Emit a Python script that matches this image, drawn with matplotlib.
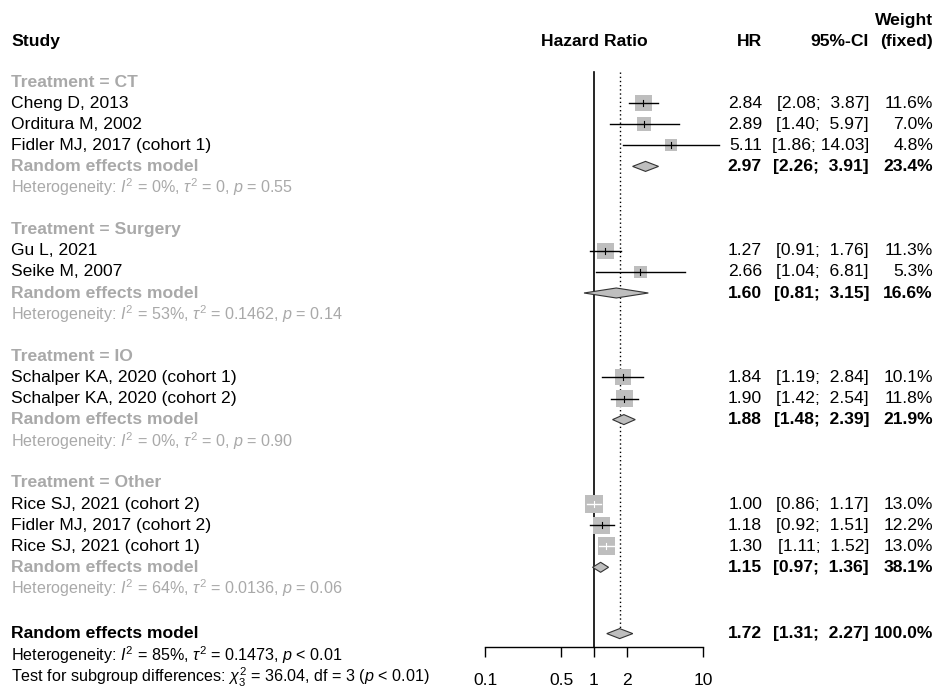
import matplotlib
matplotlib.use("Agg")
import matplotlib.pyplot as plt
from matplotlib.patches import Polygon
import numpy as np

plt.rcParams["font.family"] = ["Liberation Sans", "DejaVu Sans"]
plt.rcParams["mathtext.fontset"] = "custom"
plt.rcParams["mathtext.rm"] = "Liberation Sans"
plt.rcParams["mathtext.it"] = "Liberation Sans:italic"
plt.rcParams["mathtext.bf"] = "Liberation Sans:bold"

# ---- data ----
groups = ["CT", "Surgery", "IO", "Other"]
study_names = [
    ["Cheng D, 2013", "Orditura M, 2002", "Fidler MJ, 2017 (cohort 1)"],
    ["Gu L, 2021", "Seike M, 2007"],
    ["Schalper KA, 2020 (cohort 1)", "Schalper KA, 2020 (cohort 2)"],
    ["Rice SJ, 2021 (cohort 2)", "Fidler MJ, 2017 (cohort 2)", "Rice SJ, 2021 (cohort 1)"],
]
study_hr = [[2.84, 2.89, 5.11], [1.27, 2.66], [1.84, 1.90], [1.00, 1.18, 1.30]]
study_lo = [[2.08, 1.40, 1.86], [0.91, 1.04], [1.19, 1.42], [0.86, 0.92, 1.11]]
study_hi = [[3.87, 5.97, 14.03], [1.76, 6.81], [2.84, 2.54], [1.17, 1.51, 1.52]]
study_w = [[11.6, 7.0, 4.8], [11.3, 5.3], [10.1, 11.8], [13.0, 12.2, 13.0]]

sub_hr = [2.97, 1.60, 1.88, 1.15]
sub_lo = [2.26, 0.81, 1.48, 0.97]
sub_hi = [3.91, 3.15, 2.39, 1.36]
sub_w = [23.4, 16.6, 21.9, 38.1]
sub_het = [
    r"Heterogeneity: $I^2$ = 0%, $\tau^2$ = 0, $p$ = 0.55",
    r"Heterogeneity: $I^2$ = 53%, $\tau^2$ = 0.1462, $p$ = 0.14",
    r"Heterogeneity: $I^2$ = 0%, $\tau^2$ = 0, $p$ = 0.90",
    r"Heterogeneity: $I^2$ = 64%, $\tau^2$ = 0.0136, $p$ = 0.06",
]

overall_hr, overall_lo, overall_hi, overall_w = 1.72, 1.31, 2.27, 100.0
overall_het = r"Heterogeneity: $I^2$ = 85%, $\tau^2$ = 0.1473, $p$ < 0.01"
subgroup_test = r"Test for subgroup differences: $\chi^2_3$ = 36.04, df = 3 ($p$ < 0.01)"

xticks = [0.1, 0.5, 1, 2, 10]
xtick_labels = ["0.1", "0.5", "1", "2", "10"]

# ---- layout (pixels) ----
W, H = 944, 691
FS = 12.6
FS_HET = 11.6
GRAY_TXT = "#A9A9A9"
BOX = "#BEBEBE"
X_LAB, X_HR, X_CI, X_W = 11, 762, 869, 933
Y0, DY = 82, 21.1
AX_L, AX_R, AX_B = 485, 703, 647


def ci_str(lo, hi):
    a, b = f"{lo:.2f}", f"{hi:.2f}"
    return "[" + a + ";" + " " * (6 - len(b)) + b + "]"


fig = plt.figure(figsize=(W / 100, H / 100), dpi=100)
tx = fig.add_axes([0, 0, 1, 1])
tx.set_xlim(0, W)
tx.set_ylim(H, 0)
tx.axis("off")

ax = fig.add_axes([AX_L / W, (H - AX_B) / H, (AX_R - AX_L) / W, AX_B / H])
ax.set_xscale("log")
ax.set_xlim(0.1, 10)
ax.set_ylim(AX_B, 0)
for s in ["top", "left", "right"]:
    ax.spines[s].set_visible(False)
ax.spines["bottom"].set_linewidth(1.0)
ax.set_yticks([])
ax.set_xticks(xticks)
ax.set_xticklabels(xtick_labels, fontsize=FS)
ax.minorticks_off()
ax.tick_params(axis="x", direction="out", length=7.5, width=1.0, pad=11.5)
ax.patch.set_alpha(0)

# headers
hb = dict(fontsize=FS, fontweight="bold", va="center")
tx.text(X_LAB, 41, "Study", ha="left", **hb)
tx.text((AX_L + AX_R) / 2 + 0.5, 41, "Hazard Ratio", ha="center", **hb)
tx.text(X_HR, 41, "HR", ha="right", **hb)
tx.text(X_CI, 41, "95%-CI", ha="right", **hb)
tx.text(X_W, 20, "Weight", ha="right", **hb)
tx.text(X_W, 41, "(fixed)", ha="right", **hb)


def box_side(w):
    return 3.45 + 3.9 * np.sqrt(w)


def diamond(y, lo, est, hi, h=5):
    ax.add_patch(Polygon([(lo, y), (est, y - h), (hi, y), (est, y + h)],
                         closed=True, facecolor=BOX, edgecolor="#333333",
                         lw=0.8, clip_on=False, zorder=3))


row = 0
for g in range(len(groups)):
    y = Y0 + row * DY
    tx.text(X_LAB, y, f"Treatment = {groups[g]}", ha="left", va="center",
            fontsize=FS, fontweight="bold", color=GRAY_TXT)
    row += 1
    for i, name in enumerate(study_names[g]):
        y = Y0 + row * DY
        hr, lo, hi, w = study_hr[g][i], study_lo[g][i], study_hi[g][i], study_w[g][i]
        side = box_side(w)
        # square side in pixels -> log10 half-width (2 decades over the axis width)
        half = side / 2 / (AX_R - AX_L) * 2
        x0, x1 = hr / 10 ** half, hr * 10 ** half
        ax.add_patch(plt.Rectangle((x0, y - side / 2), x1 - x0, side,
                                   facecolor=BOX, edgecolor="none", zorder=2))
        inside = lo >= x0 and hi <= x1
        col = "white" if inside else "black"
        ax.plot([lo, hi], [y, y], color=col, lw=1.0, clip_on=False, zorder=3)
        ax.plot([hr, hr], [y - 3, y + 3], color=col, lw=0.8, zorder=3)
        tx.text(X_LAB, y, name, ha="left", va="center", fontsize=FS)
        tx.text(X_HR, y, f"{hr:.2f}", ha="right", va="center", fontsize=FS)
        tx.text(X_CI, y, ci_str(lo, hi), ha="right", va="center", fontsize=FS)
        tx.text(X_W, y, f"{w:.1f}%", ha="right", va="center", fontsize=FS)
        row += 1
    y = Y0 + row * DY
    diamond(y, sub_lo[g], sub_hr[g], sub_hi[g])
    tx.text(X_LAB, y, "Random effects model", ha="left", va="center",
            fontsize=FS, fontweight="bold", color=GRAY_TXT)
    tx.text(X_HR, y, f"{sub_hr[g]:.2f}", ha="right", va="center", fontsize=FS, fontweight="bold")
    tx.text(X_CI, y, ci_str(sub_lo[g], sub_hi[g]), ha="right", va="center", fontsize=FS, fontweight="bold")
    tx.text(X_W, y, f"{sub_w[g]:.1f}%", ha="right", va="center", fontsize=FS, fontweight="bold")
    row += 1
    y = Y0 + row * DY
    tx.text(X_LAB, y, sub_het[g], ha="left", va="center", fontsize=FS_HET, color=GRAY_TXT)
    row += 2

# overall
y_ov = Y0 + row * DY + 3
diamond(y_ov, overall_lo, overall_hr, overall_hi)
tx.text(X_LAB, y_ov, "Random effects model", ha="left", va="center", fontsize=FS, fontweight="bold")
tx.text(X_HR, y_ov, f"{overall_hr:.2f}", ha="right", va="center", fontsize=FS, fontweight="bold")
tx.text(X_CI, y_ov, ci_str(overall_lo, overall_hi), ha="right", va="center", fontsize=FS, fontweight="bold")
tx.text(X_W, y_ov, f"{overall_w:.1f}%", ha="right", va="center", fontsize=FS, fontweight="bold")
tx.text(X_LAB, y_ov + 22, overall_het, ha="left", va="center", fontsize=FS_HET)
tx.text(X_LAB, y_ov + 44, subgroup_test, ha="left", va="center", fontsize=FS_HET)

# reference lines
ax.plot([1, 1], [72, AX_B], color="black", lw=1.2, zorder=1, clip_on=False)
ax.plot([overall_hr, overall_hr], [72, y_ov - 5], color="black", lw=1.0,
        ls=(0, (1, 2)), zorder=1)

fig.savefig("out.png", dpi=100)
